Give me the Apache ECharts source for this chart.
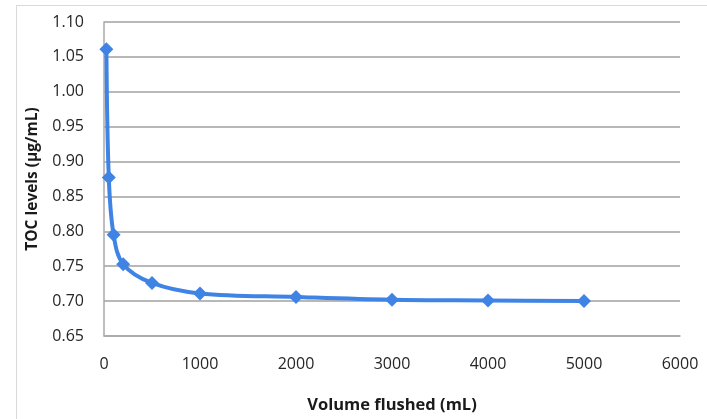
<!DOCTYPE html>
<html>
<head>
<meta charset="utf-8">
<script src="https://cdn.jsdelivr.net/npm/echarts@6/dist/echarts.min.js"></script>
<style>
  html, body { margin: 0; padding: 0; background: #fff; }
  #frame { position: absolute; left: 16px; top: 5px; width: 700px; height: 420px;
           border-left: 1px solid #d9d9d9; border-top: 1px solid #d9d9d9; box-sizing: border-box; }
  #chart { position: absolute; left: 0; top: 0; width: 707px; height: 419px; }
</style>
</head>
<body>
<div id="frame"></div>
<div id="chart"></div>
<script>
// Volume flushed (mL) and measured TOC (µg/mL)
const volumeFlushed = [25, 50, 100, 200, 500, 1000, 2000, 3000, 4000, 5000];
const tocLevels = [1.061, 0.877, 0.795, 0.753, 0.726, 0.711, 0.706, 0.702, 0.701, 0.700];
const xTicks = [0, 1000, 2000, 3000, 4000, 5000, 6000];
const yTicks = [0.65, 0.70, 0.75, 0.80, 0.85, 0.90, 0.95, 1.00, 1.05, 1.10];

const font = '"Open Sans", "Liberation Sans", sans-serif';
const chart = echarts.init(document.getElementById('chart'), null, { renderer: 'canvas' });

chart.setOption({
  animation: false,
  backgroundColor: 'transparent',
  grid: { left: 104, right: 27, top: 22, bottom: 75 },
  xAxis: {
    type: 'value',
    min: xTicks[0],
    max: xTicks[xTicks.length - 1],
    interval: 1000,
    name: 'Volume flushed (mL)',
    nameLocation: 'middle',
    nameGap: 61,
    nameTextStyle: { fontFamily: font, fontWeight: 'bold', fontSize: 16.5, color: '#1a1a1a' },
    axisLine: { show: true, lineStyle: { color: '#a8a8a8', width: 1.5 } },
    axisTick: { show: false },
    axisLabel: {
      margin: 20, fontFamily: font, fontSize: 16, fontWeight: 500, color: '#262626',
      formatter: v => String(v)
    },
    splitLine: { show: false }
  },
  yAxis: {
    type: 'value',
    min: yTicks[0],
    max: yTicks[yTicks.length - 1],
    interval: 0.05,
    name: 'TOC levels (µg/mL)',
    nameLocation: 'middle',
    nameGap: 63,
    nameRotate: 90,
    nameTextStyle: { fontFamily: font, fontWeight: 'bold', fontSize: 15.5, color: '#1a1a1a' },
    axisLine: { show: true, lineStyle: { color: '#a8a8a8', width: 1.5 } },
    axisTick: { show: false },
    axisLabel: {
      margin: 20, fontFamily: font, fontSize: 16, fontWeight: 500, color: '#262626',
      formatter: v => v.toFixed(2)
    },
    splitLine: { show: true, lineStyle: { color: '#a0a0a0', width: 1.5 } }
  },
  series: [{
    type: 'line',
    data: volumeFlushed.map((v, i) => [v, tocLevels[i]]),
    smooth: 0.35,
    symbol: 'diamond',
    symbolSize: 14,
    showSymbol: true,
    lineStyle: { color: '#3f84e5', width: 4 },
    itemStyle: { color: '#3f84e5' }
  }]
});
</script>
</body>
</html>
